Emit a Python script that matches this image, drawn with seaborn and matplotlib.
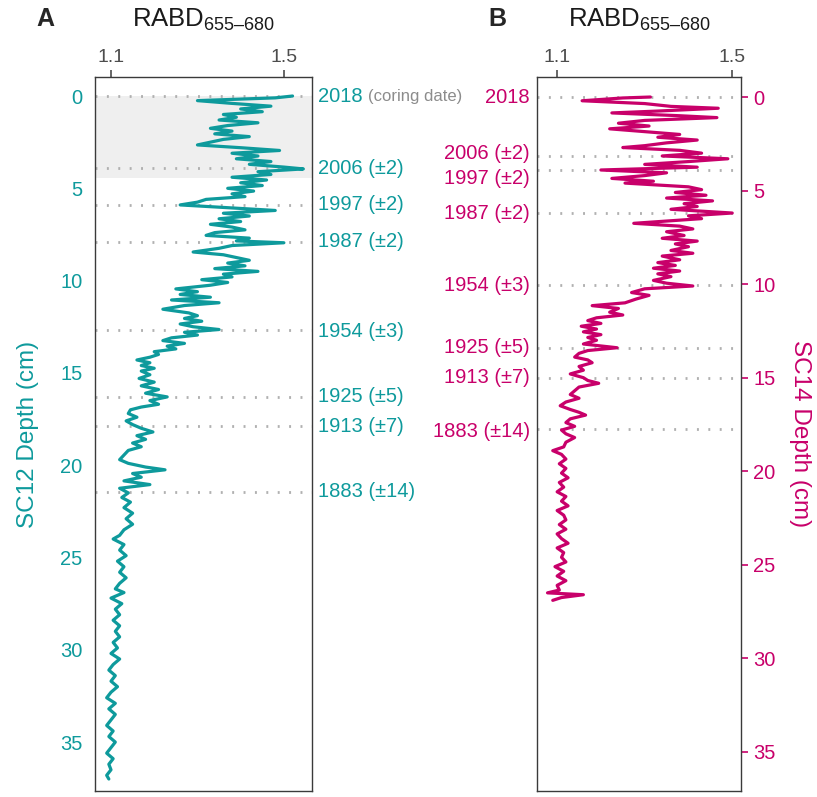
import matplotlib
matplotlib.use("Agg")
import matplotlib.pyplot as plt
import matplotlib.transforms as mtransforms
import seaborn as sns
import numpy as np

# SC12 core (panel A): depth (cm) and RABD655-680
sc12_depth = [0.0, 0.1, 0.25, 0.4, 0.55, 0.7, 0.85, 1.0, 1.15, 1.3, 1.45, 1.6, 1.75, 1.9, 2.05, 2.2,
              2.35, 2.5, 2.65, 2.8, 2.95, 3.1, 3.25, 3.4, 3.55, 3.7, 3.85, 3.95, 4.1, 4.25, 4.4, 4.55,
              4.7, 4.85, 5.0, 5.15, 5.3, 5.45, 5.6, 5.75, 5.9, 6.05, 6.2, 6.35, 6.5, 6.65, 6.8, 6.95,
              7.1, 7.25, 7.4, 7.55, 7.7, 7.85, 7.95, 8.1, 8.25, 8.45, 8.6, 8.75, 8.9, 9.05, 9.2, 9.35,
              9.5, 9.65, 9.8, 9.95, 10.1, 10.25, 10.45, 10.6, 10.75, 10.9, 11.05, 11.2, 11.35, 11.55,
              11.75, 11.9, 12.05, 12.2, 12.35, 12.5, 12.65, 12.8, 12.95, 13.1, 13.25, 13.4, 13.55,
              13.7, 13.85, 14.0, 14.15, 14.3, 14.45, 14.6, 14.75, 14.9, 15.1, 15.3, 15.5, 15.7, 15.9,
              16.1, 16.3, 16.5, 16.7, 16.85, 17.0, 17.2, 17.4, 17.6, 17.8, 18.0, 18.2, 18.4, 18.6,
              18.8, 19.0, 19.2, 19.45, 19.7, 19.9, 20.1, 20.25, 20.45, 20.65, 20.85, 21.05, 21.25,
              21.5, 21.75, 22.0, 22.3, 22.6, 22.9, 23.2, 23.5, 23.8, 24.0, 24.3, 24.6, 24.9, 25.2,
              25.5, 25.8, 26.1, 26.4, 26.7, 26.9, 27.2, 27.5, 27.8, 28.1, 28.4, 28.7, 29.0, 29.3,
              29.6, 29.9, 30.2, 30.5, 30.8, 31.1, 31.4, 31.7, 32.0, 32.3, 32.6, 32.9, 33.2, 33.5,
              33.8, 34.1, 34.4, 34.7, 35.0, 35.3, 35.6, 35.9, 36.2, 36.5, 36.8, 37.0]
sc12_rabd = [1.52, 1.48, 1.30, 1.38, 1.47, 1.40, 1.45, 1.36, 1.39, 1.35, 1.44, 1.37, 1.33, 1.38, 1.34, 1.42,
             1.36, 1.33, 1.30, 1.40, 1.49, 1.38, 1.44, 1.39, 1.47, 1.42, 1.50, 1.545, 1.44, 1.47, 1.38, 1.46,
             1.40, 1.45, 1.37, 1.43, 1.38, 1.41, 1.32, 1.30, 1.26, 1.37, 1.48, 1.36, 1.42, 1.35, 1.40, 1.33,
             1.38, 1.41, 1.34, 1.32, 1.42, 1.39, 1.50, 1.38, 1.35, 1.29, 1.36, 1.39, 1.42, 1.37, 1.41, 1.34,
             1.44, 1.36, 1.38, 1.31, 1.37, 1.33, 1.25, 1.30, 1.26, 1.33, 1.24, 1.35, 1.27, 1.22,
             1.28, 1.30, 1.27, 1.31, 1.26, 1.29, 1.35, 1.27, 1.30, 1.24, 1.22, 1.27, 1.23,
             1.25, 1.20, 1.21, 1.19, 1.16, 1.19, 1.17, 1.20, 1.17, 1.19, 1.165, 1.20, 1.17, 1.21,
             1.18, 1.23, 1.19, 1.21, 1.17, 1.145, 1.14, 1.16, 1.135, 1.15, 1.17, 1.197, 1.16, 1.18,
             1.15, 1.17, 1.14, 1.13, 1.12, 1.14, 1.18, 1.225, 1.15, 1.17, 1.13, 1.19, 1.12,
             1.14, 1.125, 1.145, 1.13, 1.15, 1.135, 1.15, 1.13, 1.12, 1.105, 1.13, 1.12, 1.135, 1.115,
             1.13, 1.12, 1.135, 1.12, 1.11, 1.13, 1.10, 1.125, 1.11, 1.12, 1.105, 1.12, 1.11, 1.12,
             1.105, 1.115, 1.10, 1.12, 1.105, 1.095, 1.11, 1.10, 1.115, 1.10, 1.09, 1.11, 1.095, 1.11,
             1.10, 1.09, 1.105, 1.095, 1.11, 1.10, 1.09, 1.105, 1.095, 1.10, 1.09, 1.095]

# SC14 core (panel B)
sc14_depth = [0.0, 0.05, 0.2, 0.35, 0.5, 0.6, 0.75, 0.85, 1.0, 1.1, 1.25, 1.4, 1.55, 1.7, 1.85, 2.0,
              2.15, 2.3, 2.45, 2.6, 2.7, 2.85, 3.0, 3.15, 3.3, 3.45, 3.6, 3.75, 3.9, 4.05, 4.2, 4.35,
              4.5, 4.6, 4.8, 4.95, 5.1, 5.25, 5.4, 5.55, 5.7, 5.85, 6.0, 6.2, 6.35, 6.5, 6.75, 6.9,
              7.05, 7.2, 7.4, 7.55, 7.7, 7.85, 8.0, 8.2, 8.35, 8.5, 8.7, 8.85, 9.0, 9.15, 9.3, 9.45,
              9.6, 9.8, 9.95, 10.1, 10.25, 10.45, 10.6, 10.8, 11.0, 11.15, 11.3, 11.5, 11.65, 11.8,
              11.95, 12.1, 12.25, 12.4, 12.55, 12.7, 12.85, 13.0, 13.2, 13.4, 13.55, 13.7, 13.9,
              14.05, 14.2, 14.4, 14.6, 14.8, 15.0, 15.15, 15.3, 15.5, 15.7, 15.9, 16.1, 16.3, 16.5,
              16.7, 16.85, 17.0, 17.2, 17.4, 17.6, 17.8, 18.0, 18.2, 18.45, 18.7, 18.9, 19.1, 19.35,
              19.6, 19.85, 20.1, 20.35, 20.6, 20.85, 21.1, 21.35, 21.6, 21.85, 22.1, 22.35, 22.6,
              22.85, 23.1, 23.35, 23.6, 23.85, 24.1, 24.35, 24.6, 24.85, 25.1, 25.35, 25.6, 25.85,
              26.1, 26.35, 26.5, 26.6, 26.75, 26.9]
sc14_rabd = [1.313, 1.25, 1.157, 1.30, 1.36, 1.468, 1.33, 1.225, 1.38, 1.465, 1.30, 1.24, 1.31, 1.22, 1.30, 1.38,
             1.33, 1.42, 1.35, 1.30, 1.25, 1.38, 1.43, 1.34, 1.49, 1.40, 1.30, 1.42, 1.20, 1.35, 1.30, 1.225,
             1.32, 1.255, 1.40, 1.43, 1.37, 1.44, 1.35, 1.455, 1.39, 1.42, 1.36, 1.50, 1.40, 1.43, 1.275, 1.38,
             1.41, 1.35, 1.39, 1.34, 1.42, 1.37, 1.40, 1.36, 1.41, 1.34, 1.38, 1.33, 1.37, 1.32, 1.38, 1.33,
             1.36, 1.32, 1.35, 1.41, 1.30, 1.27, 1.31, 1.28, 1.255, 1.18, 1.24, 1.22, 1.25, 1.19,
             1.17, 1.20, 1.155, 1.19, 1.16, 1.20, 1.17, 1.19, 1.16, 1.237, 1.17, 1.15, 1.14,
             1.17, 1.18, 1.15, 1.16, 1.13, 1.16, 1.17, 1.195, 1.15, 1.14, 1.13, 1.15, 1.12, 1.107,
             1.13, 1.15, 1.165, 1.13, 1.12, 1.14, 1.11, 1.12, 1.14, 1.12, 1.115, 1.09, 1.11, 1.12,
             1.105, 1.12, 1.11, 1.125, 1.105, 1.115, 1.10, 1.12, 1.11, 1.125, 1.10, 1.115, 1.12,
             1.105, 1.12, 1.10, 1.11, 1.125, 1.10, 1.115, 1.11, 1.12, 1.095, 1.115, 1.10, 1.12,
             1.10, 1.105, 1.078, 1.16, 1.11, 1.09]

# dated horizons
sc12_date_depth = [0.0, 3.9, 5.9, 7.9, 12.65, 16.3, 17.9, 21.45]
sc12_label_depth = [0.0, 3.9, 5.9, 7.9, 12.75, 16.3, 17.9, 21.45]
sc14_date_depth = [0.0, 3.15, 3.9, 6.2, 10.05, 13.4, 15.0, 17.75]
sc14_label_depth = [0.0, 3.0, 4.35, 6.2, 10.1, 13.4, 15.0, 17.85]
date_labels = ["2018", "2006 (±2)", "1997 (±2)", "1987 (±2)", "1954 (±3)",
               "1925 (±5)", "1913 (±7)", "1883 (±14)"]

teal = "#0E9A9C"
magenta = "#C8006A"
grey_txt = "#4D4D4D"
dot_col = "#B0B0B0"

sns.set_style("white")
plt.rcParams['font.family'] = ['Liberation Sans', 'DejaVu Sans']
plt.rcParams['mathtext.fontset'] = 'custom'
plt.rcParams['mathtext.rm'] = 'Liberation Sans'
plt.rcParams['mathtext.it'] = 'Liberation Sans'

fig = plt.figure(figsize=(8.17, 7.97), dpi=100)
W, H = 817, 797
axA = fig.add_axes([95 / W, 1 - 791 / H, 217 / W, 714 / H])
axB = fig.add_axes([537 / W, 1 - 791 / H, 204 / W, 714 / H])


def style_axis(ax, col, xlim, ylim, side):
    ax.set_xlim(*xlim)
    ax.set_ylim(*ylim)
    ax.xaxis.tick_top()
    ax.set_xticks([1.1, 1.5])
    ax.set_xticklabels(["1.1", "1.5"])
    ax.tick_params(axis="x", colors=grey_txt, labelsize=14, length=5, width=1.2, pad=3,
                   top=True, bottom=False)
    ax.set_yticks([0, 5, 10, 15, 20, 25, 30, 35])
    if side == "right":
        ax.yaxis.tick_right()
    ax.tick_params(axis="y", colors=col, labelsize=14.5, length=5, width=1.2, pad=4)
    ax.set_xlabel("")
    ax.set_ylabel("")
    for s in ax.spines.values():
        s.set_color("#3A3A3A")
        s.set_linewidth(1.0)


# panel A
axA.axhspan(0, 4.45, color="#EFEFEF", zorder=0, lw=0)
for d in sc12_date_depth:
    axA.axhline(d, color=dot_col, lw=2.0, ls=(0, (0.7, 3.4)), zorder=1)
sns.lineplot(x=sc12_rabd, y=sc12_depth, sort=False, estimator=None, color=teal,
             lw=2.3, ax=axA, zorder=3)
style_axis(axA, teal, (1.063, 1.565), (37.65, -1.03), "left")

trA = mtransforms.blended_transform_factory(axA.transAxes, axA.transData)
for lab, d in zip(date_labels, sc12_label_depth):
    axA.text(1.028, d, lab, transform=trA, color=teal, fontsize=14.5,
             ha="left", va="center", clip_on=False)
axA.text(1.258, 0.0, "(coring date)", transform=trA, color="#8C8C8C", fontsize=12,
         ha="left", va="center", clip_on=False)

# panel B
for d in sc14_date_depth:
    axB.axhline(d, color=dot_col, lw=2.0, ls=(0, (0.7, 3.4)), zorder=1)
sns.lineplot(x=sc14_rabd, y=sc14_depth, sort=False, estimator=None, color=magenta,
             lw=2.3, ax=axB, zorder=3)
style_axis(axB, magenta, (1.054, 1.52), (37.09, -1.07), "right")

trB = mtransforms.blended_transform_factory(axB.transAxes, axB.transData)
for lab, d in zip(date_labels, sc14_label_depth):
    axB.text(-0.034, d, lab, transform=trB, color=magenta, fontsize=14.5,
             ha="right", va="center", clip_on=False)

# titles / labels
title = r"RABD$_{\mathregular{655–680}}$"
fig.text(204 / W, 1 - 20 / H, title, fontsize=18.5, ha="center", va="center", color="#1A1A1A")
fig.text(640 / W, 1 - 20 / H, title, fontsize=18.5, ha="center", va="center", color="#1A1A1A")
fig.text(45 / W, 1 - 19 / H, "A", fontsize=18, fontweight="bold", ha="center", va="center")
fig.text(497 / W, 1 - 19 / H, "B", fontsize=18, fontweight="bold", ha="center", va="center")
fig.text(28 / W, 1 - 434 / H, "SC12 Depth (cm)", fontsize=17.5, color=teal,
         rotation=90, ha="center", va="center")
fig.text(800 / W, 1 - 434 / H, "SC14 Depth (cm)", fontsize=17.5, color=magenta,
         rotation=270, ha="center", va="center")

fig.savefig("out.png", dpi=100)
